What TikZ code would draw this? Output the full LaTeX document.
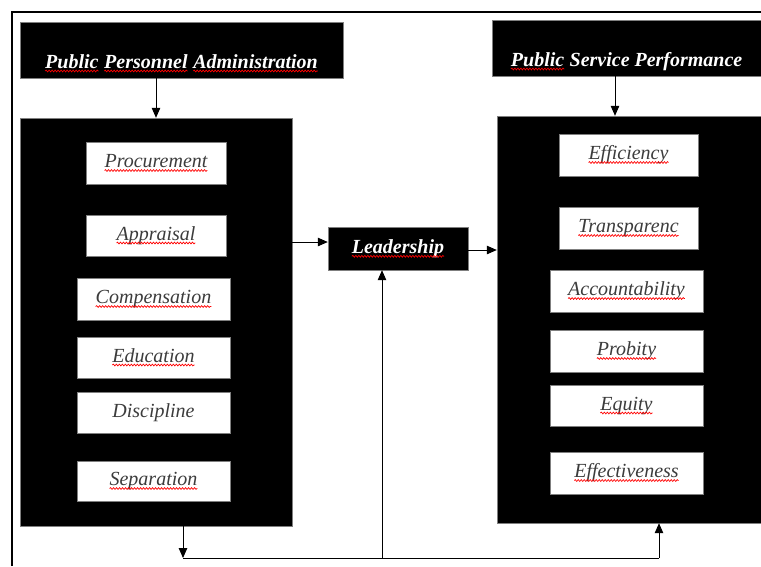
\documentclass[tikz,border=0pt]{standalone}
\usepackage{fontspec}
\setmainfont{Liberation Serif}
\usepackage{tikz}
\usetikzlibrary{arrows.meta, positioning, decorations.pathmorphing}
\definecolor{frGrey}{HTML}{7F7F7F}
\definecolor{txGrey}{HTML}{3C3C3C}

% red wavy underline under a word
\newcommand{\squig}[1]{\tikz[baseline=(sq.base)]{\node[inner sep=0pt, outer sep=0pt, draw=none, fill=none,
    minimum width=0pt, minimum height=0pt, text height=, text depth=] (sq) {#1};
  \draw[wavy] ([yshift=-3pt]sq.base west) -- ([yshift=-3pt]sq.base east);}}

\begin{document}
\begin{tikzpicture}[
  x=1pt, y=-1pt,
  font=\fontsize{20}{23}\selectfont\itshape,
  head/.style={draw=frGrey, fill=black, text=white, inner sep=0pt, font=\fontsize{20}{23}\selectfont\bfseries\itshape},
  panel/.style={draw=frGrey, fill=black, inner sep=0pt},
  item/.style={draw=frGrey, fill=white, text=txGrey, inner sep=0pt, text height=13pt, text depth=4pt},
  wavy/.style={draw=red, fill=none, line width=0.7pt, decorate, decoration={snake, amplitude=0.9pt, segment length=3pt}},
  arr/.style={-{Triangle[length=10pt, width=8.5pt]}, draw=black, line width=1pt},
  link/.style={draw=black, line width=1pt},
  frame/.style={draw=black, line width=2pt},
]
\useasboundingbox (0,0) rectangle (761,566);
\draw[frame] (12,566) -- (12,12) -- (761,12);

% ---- Headers ----
\node[head, minimum width=323, minimum height=56] (ppa) at (181.5,50)
  {\raisebox{-18pt}[0pt][0pt]{\squig{Public} \squig{Personnel} \squig{Administration}}};
\node[head, minimum width=269, minimum height=56] (psp) at (626.5,48)
  {\raisebox{-18pt}[0pt][0pt]{\squig{Public} Service Performance}};

% ---- Panels ----
\node[panel, minimum width=272, minimum height=408] (pbox) at (156,322) {};
\node[panel, minimum width=264, minimum height=407] (sbox) at (629,319.5) {};
\node[head, minimum width=140, minimum height=43] (lead) at (398,248.5) {\squig{Leadership}};

% ---- Personnel functions ----
\node[item, minimum width=140, minimum height=42] (procure) at (156,163) {\squig{Procurement}};
\node[item, minimum width=140, minimum height=41] (apprais) at (156,235.5) {\squig{Appraisal}};
\node[item, minimum width=153, minimum height=42] (compens) at (153.5,299) {\squig{Compensation}};
\node[item, minimum width=153, minimum height=41] (educ) at (153.5,357.5) {\squig{Education}};
\node[item, minimum width=153, minimum height=41] (discip) at (153.5,412.5) {Discipline};
\node[item, minimum width=153, minimum height=40] (separ) at (153.5,481) {\squig{Separation}};

% ---- Performance measures ----
\node[item, minimum width=139, minimum height=42] (effic) at (628.5,155) {\squig{Efficiency}};
\node[item, minimum width=139, minimum height=42] (transp) at (628.5,228) {\squig{Transparenc}};
\node[item, minimum width=153, minimum height=42] (account) at (626.5,291) {\squig{Accountability}};
\node[item, minimum width=153, minimum height=42] (probity) at (626.5,351) {\squig{Probity}};
\node[item, minimum width=153, minimum height=41] (equity) at (626.5,405.5) {\squig{Equity}};
\node[item, minimum width=153, minimum height=42] (effect) at (626.5,473) {\squig{Effectiveness}};

% ---- feedback line ----
\coordinate (bl) at (183,558);
\coordinate (bm) at (382,558);
\coordinate (br) at (659,558);

% ---- arrows ----
\draw[arr] (ppa.south -| pbox.north) -- (pbox.north);
\draw[arr] ([xshift=-11.5pt]psp.south) -- ([xshift=-11.5pt]psp.south |- sbox.north);
\draw[arr] ([yshift=6.5pt]lead.west -| pbox.east) -- ([yshift=6.5pt]lead.west);
\draw[arr] ([yshift=-1.5pt]lead.east) -- ([yshift=-1.5pt]lead.east -| sbox.west);

\draw[arr] (bl |- pbox.south) -- (bl);
\draw[link] (bl) -- (br);
\draw[arr] (br) -- (br |- sbox.south);
\draw[arr] (bm) -- (bm |- lead.south);
\end{tikzpicture}
\end{document}
